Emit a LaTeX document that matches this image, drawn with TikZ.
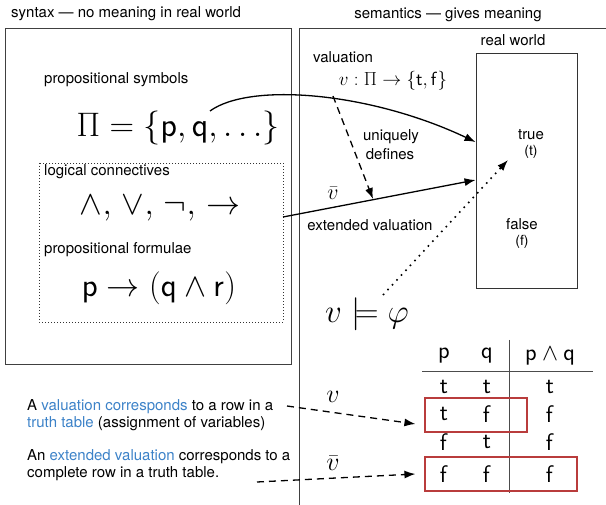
\RequirePackage{fix-cm}
\documentclass[tikz,border=0pt]{standalone}
\usepackage[no-math]{fontspec}
\setmainfont{TeX Gyre Heros}
\usetikzlibrary{arrows.meta,calc}
\definecolor{tblue}{RGB}{60,130,200}
\definecolor{tred}{RGB}{185,60,60}
\newcommand{\myfs}[1]{\fontsize{#1}{#1}\selectfont}
\begin{document}
\begin{tikzpicture}[x=1pt,y=-1pt,
  lbl/.style={inner sep=0pt, font=\myfs{15}},
  smalltxt/.style={inner sep=0pt, font=\myfs{14}},
  mth/.style={inner sep=0pt},
  frame/.style={draw=black!75, line width=0.9pt},
  arr/.style={line width=1.3pt, -{Latex[length=11pt,width=8pt]}},
  darr/.style={line width=1.3pt, dash pattern=on 7pt off 5pt, -{Latex[length=11pt,width=8pt]}},
  dotarr/.style={line width=1.6pt, dash pattern=on 1.6pt off 5pt, -{Latex[length=11pt,width=8pt]}},
  redbox/.style={draw=tred, line width=1.2pt, inner sep=0pt}]
\useasboundingbox (0,0) rectangle (606,505);
% titles
\node[lbl, anchor=west] (syn) at (11,14) {syntax — no meaning in real world};
\node[lbl] (sem) at (448,15) {semantics — gives meaning};
% frames
\draw[frame] (5,28) rectangle (291,364);
\draw[frame] (299,505) -- (299,28) -- (606,28);
% syntax side
\node[lbl, anchor=west] (ps) at (44,80) {propositional symbols};
\node[mth, font=\myfs{34}] (pi) at (178,128) {$\Pi=\{\mathsf{p},\mathsf{q},\ldots\}$};
\draw[black!80, line width=0.8pt, dash pattern=on 1pt off 2pt] (39,163) rectangle (283,322);
\node[lbl, anchor=west] (lc) at (44,172) {logical connectives};
\node[mth, font=\myfs{34}] (conn) at (160,208) {$\wedge,\hspace{0.13em}\vee,\hspace{0.13em}\neg,\hspace{0.13em}\rightarrow$};
\node[lbl, anchor=west] (pf) at (44,250) {propositional formulae};
\node[mth, font=\myfs{33}] (form) at (159,288) {$\mathsf{p}\rightarrow(\mathsf{q}\wedge\mathsf{r})$};
% semantics side
\node[lbl, anchor=west] (val) at (313,57) {valuation};
\node[mth, font=\myfs{19}] (vmap) at (393,81) {$v:\Pi\rightarrow\{\mathsf{t},\mathsf{f}\}$};
\node[lbl] (rwl) at (513,40) {real world};
\node[draw=black!80, line width=0.9pt, minimum width=101pt, minimum height=235pt, inner sep=0pt] (rw) at (526.5,170.5) {};
\node[lbl] (tr) at (531,135) {true};
\node[smalltxt] (trt) at (531,152) {(t)};
\node[lbl] (fa) at (522,224) {false};
\node[smalltxt] (faf) at (522,242) {(f)};
\node[lbl] (uq) at (391,137) {uniquely};
\node[lbl] (df) at (390,154) {defines};
\node[mth, font=\myfs{22}] (vbar) at (333,193) {$\bar v$};
\node[lbl] (ev) at (370,225) {extended valuation};
\node[mth, font=\myfs{33}] (models) at (367,314) {$v\models\varphi$};
% connectors
\coordinate (qpt) at (210,111);
\coordinate (tin) at ($(rw.west)+(0,-28.5)$);
\draw[arr] (qpt) .. controls (250,82) and (370,92) .. (tin);
\coordinate (cpt) at (333,96);
\coordinate (evstart) at (283,217);
\coordinate (evend) at ($(rw.west)+(0,9.5)$);
\coordinate (cend) at (373,199);
\draw[arr] (evstart) -- (evend);
\draw[darr] (cpt) -- (cend);
\coordinate (mstart) at (383,295);
\coordinate (mend) at (508,160);
\draw[dotarr] (mstart) -- (mend);
% truth table
\begin{scope}[every node/.style={inner sep=0pt, font=\myfs{24}}]
\node (h1) at (444,356) {$\mathsf{p}$};
\node (h2) at (487,356) {$\mathsf{q}$};
\node (h3) at (550,356) {$\mathsf{p}\wedge\mathsf{q}$};
\node (a1) at (444,387) {$\mathsf{t}$};
\node (a2) at (487,387) {$\mathsf{t}$};
\node (a3) at (550,387) {$\mathsf{t}$};
\node (b1) at (444,414) {$\mathsf{t}$};
\node (b2) at (487,414) {$\mathsf{f}$};
\node (b3) at (550,414) {$\mathsf{f}$};
\node (c1) at (444,442) {$\mathsf{f}$};
\node (c2) at (487,442) {$\mathsf{t}$};
\node (c3) at (550,442) {$\mathsf{f}$};
\node (d1) at (444,474) {$\mathsf{f}$};
\node (d2) at (487,474) {$\mathsf{f}$};
\node (d3) at (550,474) {$\mathsf{f}$};
\end{scope}
\draw[black!70, line width=0.9pt] (422,371) -- (593,371);
\draw[black!70, line width=0.9pt] (509,340) -- (509,493);
\node[redbox, minimum width=102pt, minimum height=34pt] (r1) at (476,415) {};
\node[redbox, minimum width=152pt, minimum height=34pt] (r2) at (501,474) {};
% explanations
\node[lbl, anchor=west, align=left, font=\fontsize{15}{16.5}\selectfont] (t1) at (27,415)
  {A \textcolor{tblue}{valuation corresponds} to a row in a\\\textcolor{tblue}{truth table} (assignment of variables)};
\node[lbl, anchor=west, align=left, font=\fontsize{15}{16.5}\selectfont] (t2) at (27,465)
  {An \textcolor{tblue}{extended valuation} corresponds to a\\complete row in a truth table.};
\coordinate (vs) at (287,406);
\coordinate (vbs) at (257,482);
\draw[darr] (vs) -- ($(r1.west)+(-9,9)$);
\draw[darr] (vbs) -- ($(r2.west)+(-9,0)$);
\node[mth, font=\myfs{26}] (vl) at (333,397) {$v$};
\node[mth, font=\myfs{26}] (vbl) at (333,463) {$\bar v$};
\end{tikzpicture}
\end{document}
